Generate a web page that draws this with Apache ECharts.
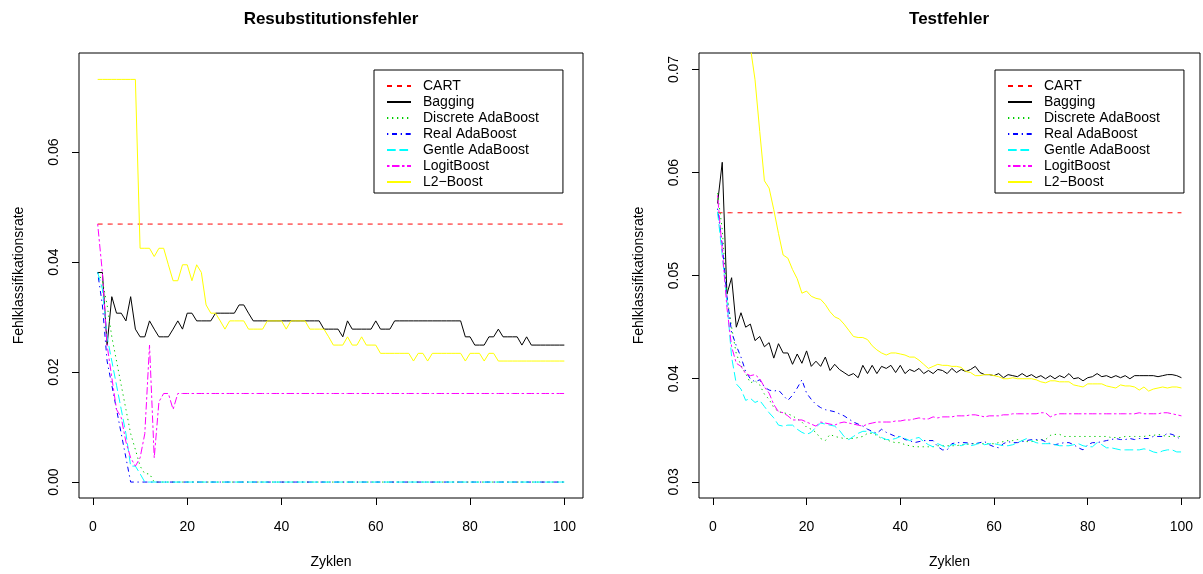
<!DOCTYPE html>
<html>
<head>
<meta charset="utf-8">
<script src="https://cdn.jsdelivr.net/npm/echarts@6/dist/echarts.min.js"></script>
<style>
  html, body { margin: 0; padding: 0; background: #fff; }
  #chart { width: 1203px; height: 574px; }
</style>
</head>
<body>
<div id="chart"></div>
<script>
// Boosting cycles (x axis)
const cycles = [
  1,2,3,4,5,6,7,8,9,10, 11,12,13,14,15,16,17,18,19,20,
  21,22,23,24,25,26,27,28,29,30, 31,32,33,34,35,36,37,38,39,40,
  41,42,43,44,45,46,47,48,49,50, 51,52,53,54,55,56,57,58,59,60,
  61,62,63,64,65,66,67,68,69,70, 71,72,73,74,75,76,77,78,79,80,
  81,82,83,84,85,86,87,88,89,90, 91,92,93,94,95,96,97,98,99,100
];

const methods = ['CART', 'Bagging', 'Discrete AdaBoost', 'Real AdaBoost',
                 'Gentle AdaBoost', 'LogitBoost', 'L2\u2212Boost'];

const leftTitle = 'Resubstitutionsfehler';
const rightTitle = 'Testfehler';
const xName = 'Zyklen';
const yName = 'Fehlklassifikationsrate';

const xTicks = [0, 20, 40, 60, 80, 100];
const yTicksTrain = [0.00, 0.02, 0.04, 0.06];
const yTicksTest = [0.03, 0.04, 0.05, 0.06, 0.07];

// ---- Resubstitution error (training data) ----
const cartTrain = [
  0.0469,0.0469,0.0469,0.0469,0.0469,0.0469,0.0469,0.0469,0.0469,0.0469,
  0.0469,0.0469,0.0469,0.0469,0.0469,0.0469,0.0469,0.0469,0.0469,0.0469,
  0.0469,0.0469,0.0469,0.0469,0.0469,0.0469,0.0469,0.0469,0.0469,0.0469,
  0.0469,0.0469,0.0469,0.0469,0.0469,0.0469,0.0469,0.0469,0.0469,0.0469,
  0.0469,0.0469,0.0469,0.0469,0.0469,0.0469,0.0469,0.0469,0.0469,0.0469,
  0.0469,0.0469,0.0469,0.0469,0.0469,0.0469,0.0469,0.0469,0.0469,0.0469,
  0.0469,0.0469,0.0469,0.0469,0.0469,0.0469,0.0469,0.0469,0.0469,0.0469,
  0.0469,0.0469,0.0469,0.0469,0.0469,0.0469,0.0469,0.0469,0.0469,0.0469,
  0.0469,0.0469,0.0469,0.0469,0.0469,0.0469,0.0469,0.0469,0.0469,0.0469,
  0.0469,0.0469,0.0469,0.0469,0.0469,0.0469,0.0469,0.0469,0.0469,0.0469
];
const bagTrain = [
  0.0381,0.0381,0.0249,0.0337,0.0307,0.0307,0.0293,0.0337,0.0278,0.0264,
  0.0264,0.0293,0.0278,0.0264,0.0264,0.0264,0.0278,0.0293,0.0278,0.0307,
  0.0307,0.0293,0.0293,0.0293,0.0293,0.0307,0.0307,0.0307,0.0307,0.0307,
  0.0322,0.0322,0.0307,0.0293,0.0293,0.0293,0.0293,0.0293,0.0293,0.0293,
  0.0293,0.0293,0.0293,0.0293,0.0293,0.0293,0.0293,0.0293,0.0278,0.0278,
  0.0278,0.0278,0.0264,0.0293,0.0278,0.0278,0.0278,0.0278,0.0278,0.0293,
  0.0278,0.0278,0.0278,0.0293,0.0293,0.0293,0.0293,0.0293,0.0293,0.0293,
  0.0293,0.0293,0.0293,0.0293,0.0293,0.0293,0.0293,0.0293,0.0264,0.0264,
  0.0249,0.0249,0.0249,0.0264,0.0264,0.0278,0.0264,0.0264,0.0264,0.0264,
  0.0249,0.0264,0.0249,0.0249,0.0249,0.0249,0.0249,0.0249,0.0249,0.0249
];
const discTrain = [
  0.0381,0.0366,0.0322,0.0264,0.0220,0.0176,0.0132,0.0088,0.0059,0.0029,
  0.0015,0.0015,0,0,0,0,0,0,0,0,
  0,0,0,0,0,0,0,0,0,0, 0,0,0,0,0,0,0,0,0,0,
  0,0,0,0,0,0,0,0,0,0, 0,0,0,0,0,0,0,0,0,0,
  0,0,0,0,0,0,0,0,0,0, 0,0,0,0,0,0,0,0,0,0,
  0,0,0,0,0,0,0,0,0,0, 0,0,0,0,0,0,0,0,0,0
];
const realTrain = [
  0.0381,0.0322,0.0220,0.0176,0.0132,0.0088,0.0044,0,0,0,
  0,0,0,0,0,0,0,0,0,0,
  0,0,0,0,0,0,0,0,0,0, 0,0,0,0,0,0,0,0,0,0,
  0,0,0,0,0,0,0,0,0,0, 0,0,0,0,0,0,0,0,0,0,
  0,0,0,0,0,0,0,0,0,0, 0,0,0,0,0,0,0,0,0,0,
  0,0,0,0,0,0,0,0,0,0, 0,0,0,0,0,0,0,0,0,0
];
const gentleTrain = [
  0.0381,0.0351,0.0264,0.0220,0.0176,0.0132,0.0088,0.0029,0.0029,0.0015,
  0,0,0,0,0,0,0,0,0,0,
  0,0,0,0,0,0,0,0,0,0, 0,0,0,0,0,0,0,0,0,0,
  0,0,0,0,0,0,0,0,0,0, 0,0,0,0,0,0,0,0,0,0,
  0,0,0,0,0,0,0,0,0,0, 0,0,0,0,0,0,0,0,0,0,
  0,0,0,0,0,0,0,0,0,0, 0,0,0,0,0,0,0,0,0,0
];
const logitTrain = [
  0.0469,0.0381,0.0249,0.0190,0.0132,0.0117,0.0073,0.0044,0.0029,0.0044,
  0.0088,0.0249,0.0044,0.0146,0.0161,0.0161,0.0132,0.0161,0.0161,0.0161,
  0.0161,0.0161,0.0161,0.0161,0.0161,0.0161,0.0161,0.0161,0.0161,0.0161,
  0.0161,0.0161,0.0161,0.0161,0.0161,0.0161,0.0161,0.0161,0.0161,0.0161,
  0.0161,0.0161,0.0161,0.0161,0.0161,0.0161,0.0161,0.0161,0.0161,0.0161,
  0.0161,0.0161,0.0161,0.0161,0.0161,0.0161,0.0161,0.0161,0.0161,0.0161,
  0.0161,0.0161,0.0161,0.0161,0.0161,0.0161,0.0161,0.0161,0.0161,0.0161,
  0.0161,0.0161,0.0161,0.0161,0.0161,0.0161,0.0161,0.0161,0.0161,0.0161,
  0.0161,0.0161,0.0161,0.0161,0.0161,0.0161,0.0161,0.0161,0.0161,0.0161,
  0.0161,0.0161,0.0161,0.0161,0.0161,0.0161,0.0161,0.0161,0.0161,0.0161
];
const l2Train = [
  0.0732,0.0732,0.0732,0.0732,0.0732,0.0732,0.0732,0.0732,0.0732,0.0425,
  0.0425,0.0425,0.0410,0.0425,0.0425,0.0395,0.0366,0.0366,0.0395,0.0395,
  0.0366,0.0395,0.0381,0.0322,0.0307,0.0307,0.0293,0.0278,0.0293,0.0293,
  0.0293,0.0293,0.0278,0.0278,0.0278,0.0278,0.0293,0.0293,0.0293,0.0293,
  0.0278,0.0293,0.0293,0.0293,0.0293,0.0278,0.0278,0.0278,0.0278,0.0264,
  0.0249,0.0249,0.0249,0.0264,0.0249,0.0249,0.0264,0.0249,0.0249,0.0249,
  0.0234,0.0234,0.0234,0.0234,0.0234,0.0234,0.0234,0.0220,0.0234,0.0234,
  0.0220,0.0234,0.0234,0.0234,0.0234,0.0234,0.0234,0.0234,0.0220,0.0234,
  0.0234,0.0234,0.0220,0.0234,0.0234,0.0220,0.0220,0.0220,0.0220,0.0220,
  0.0220,0.0220,0.0220,0.0220,0.0220,0.0220,0.0220,0.0220,0.0220,0.0220
];

// ---- Test error ----
const cartTest = [
  0.0561,0.0561,0.0561,0.0561,0.0561,0.0561,0.0561,0.0561,0.0561,0.0561,
  0.0561,0.0561,0.0561,0.0561,0.0561,0.0561,0.0561,0.0561,0.0561,0.0561,
  0.0561,0.0561,0.0561,0.0561,0.0561,0.0561,0.0561,0.0561,0.0561,0.0561,
  0.0561,0.0561,0.0561,0.0561,0.0561,0.0561,0.0561,0.0561,0.0561,0.0561,
  0.0561,0.0561,0.0561,0.0561,0.0561,0.0561,0.0561,0.0561,0.0561,0.0561,
  0.0561,0.0561,0.0561,0.0561,0.0561,0.0561,0.0561,0.0561,0.0561,0.0561,
  0.0561,0.0561,0.0561,0.0561,0.0561,0.0561,0.0561,0.0561,0.0561,0.0561,
  0.0561,0.0561,0.0561,0.0561,0.0561,0.0561,0.0561,0.0561,0.0561,0.0561,
  0.0561,0.0561,0.0561,0.0561,0.0561,0.0561,0.0561,0.0561,0.0561,0.0561,
  0.0561,0.0561,0.0561,0.0561,0.0561,0.0561,0.0561,0.0561,0.0561,0.0561
];
const bagTest = [
  0.0570,0.0610,0.0482,0.0498,0.0450,0.0464,0.0450,0.0453,0.0437,0.0441,
  0.0431,0.0435,0.0420,0.0434,0.0425,0.0425,0.0414,0.0424,0.0415,0.0427,
  0.0412,0.0417,0.0412,0.0421,0.0408,0.0414,0.0409,0.0406,0.0403,0.0405,
  0.0401,0.0413,0.0405,0.0413,0.0405,0.0412,0.0410,0.0413,0.0406,0.0413,
  0.0405,0.0409,0.0407,0.0410,0.0405,0.0408,0.0405,0.0409,0.0408,0.0405,
  0.0410,0.0406,0.0409,0.0407,0.0409,0.0412,0.0406,0.0404,0.0404,0.0403,
  0.0405,0.0401,0.0404,0.0403,0.0402,0.0405,0.0402,0.0404,0.0401,0.0403,
  0.0400,0.0403,0.0400,0.0403,0.0401,0.0405,0.0400,0.0401,0.0398,0.0401,
  0.0402,0.0405,0.0402,0.0403,0.0401,0.0403,0.0401,0.0403,0.0400,0.0403,
  0.0403,0.0403,0.0403,0.0403,0.0402,0.0403,0.0404,0.0404,0.0403,0.0401
];
const discTest = [
  0.0580,0.0545,0.0480,0.0450,0.0424,0.0413,0.0405,0.0396,0.0398,0.0394,
  0.0385,0.0380,0.0372,0.0368,0.0367,0.0366,0.0364,0.0361,0.0358,0.0353,
  0.0351,0.0348,0.0342,0.0340,0.0346,0.0344,0.0343,0.0342,0.0342,0.0342,
  0.0343,0.0344,0.0347,0.0347,0.0345,0.0342,0.0341,0.0339,0.0338,0.0338,
  0.0336,0.0335,0.0334,0.0334,0.0334,0.0334,0.0334,0.0335,0.0335,0.0335,
  0.0335,0.0335,0.0336,0.0336,0.0337,0.0337,0.0337,0.0337,0.0337,0.0337,
  0.0338,0.0339,0.0340,0.0340,0.0341,0.0340,0.0339,0.0339,0.0340,0.0341,
  0.0341,0.0345,0.0346,0.0346,0.0344,0.0344,0.0344,0.0344,0.0344,0.0344,
  0.0344,0.0344,0.0344,0.0344,0.0343,0.0343,0.0343,0.0344,0.0344,0.0344,
  0.0344,0.0344,0.0345,0.0345,0.0346,0.0345,0.0344,0.0344,0.0344,0.0344
];
const realTest = [
  0.0565,0.0530,0.0480,0.0445,0.0432,0.0421,0.0407,0.0400,0.0397,0.0399,
  0.0392,0.0389,0.0388,0.0389,0.0384,0.0379,0.0384,0.0391,0.0399,0.0386,
  0.0380,0.0375,0.0372,0.0370,0.0369,0.0368,0.0366,0.0364,0.0361,0.0358,
  0.0356,0.0354,0.0351,0.0349,0.0347,0.0351,0.0348,0.0346,0.0344,0.0344,
  0.0341,0.0340,0.0338,0.0339,0.0340,0.0340,0.0340,0.0334,0.0331,0.0331,
  0.0337,0.0338,0.0338,0.0338,0.0337,0.0337,0.0338,0.0339,0.0336,0.0334,
  0.0333,0.0337,0.0339,0.0338,0.0338,0.0339,0.0340,0.0341,0.0341,0.0341,
  0.0339,0.0337,0.0336,0.0337,0.0338,0.0338,0.0336,0.0333,0.0331,0.0336,
  0.0338,0.0338,0.0339,0.0340,0.0341,0.0342,0.0341,0.0341,0.0342,0.0341,
  0.0342,0.0342,0.0342,0.0344,0.0344,0.0344,0.0347,0.0346,0.0344,0.0340
];
const gentleTest = [
  0.0562,0.0520,0.0475,0.0421,0.0395,0.0390,0.0379,0.0381,0.0377,0.0379,
  0.0373,0.0367,0.0362,0.0355,0.0354,0.0355,0.0355,0.0351,0.0348,0.0346,
  0.0348,0.0353,0.0357,0.0356,0.0355,0.0354,0.0350,0.0344,0.0341,0.0344,
  0.0347,0.0349,0.0349,0.0348,0.0346,0.0343,0.0341,0.0341,0.0342,0.0344,
  0.0342,0.0340,0.0342,0.0343,0.0339,0.0336,0.0334,0.0337,0.0335,0.0333,
  0.0336,0.0336,0.0335,0.0337,0.0335,0.0336,0.0338,0.0336,0.0337,0.0337,
  0.0336,0.0335,0.0335,0.0336,0.0338,0.0340,0.0342,0.0340,0.0338,0.0337,
  0.0337,0.0337,0.0336,0.0335,0.0335,0.0335,0.0336,0.0337,0.0335,0.0334,
  0.0334,0.0338,0.0336,0.0333,0.0333,0.0332,0.0331,0.0331,0.0331,0.0331,
  0.0331,0.0332,0.0331,0.0329,0.0328,0.0330,0.0331,0.0331,0.0329,0.0329
];
const logitTest = [
  0.0578,0.0525,0.0469,0.0431,0.0415,0.0412,0.0405,0.0403,0.0404,0.0400,
  0.0392,0.0386,0.0375,0.0368,0.0367,0.0364,0.0360,0.0360,0.0360,0.0358,
  0.0356,0.0354,0.0358,0.0357,0.0356,0.0355,0.0357,0.0358,0.0357,0.0356,
  0.0355,0.0354,0.0356,0.0357,0.0358,0.0358,0.0358,0.0358,0.0359,0.0359,
  0.0360,0.0360,0.0361,0.0362,0.0361,0.0361,0.0363,0.0362,0.0363,0.0363,
  0.0363,0.0364,0.0364,0.0364,0.0365,0.0365,0.0364,0.0363,0.0364,0.0364,
  0.0364,0.0365,0.0365,0.0366,0.0366,0.0366,0.0366,0.0366,0.0366,0.0367,
  0.0367,0.0363,0.0365,0.0366,0.0366,0.0366,0.0366,0.0366,0.0366,0.0366,
  0.0366,0.0366,0.0366,0.0366,0.0366,0.0366,0.0366,0.0366,0.0366,0.0366,
  0.0367,0.0366,0.0366,0.0366,0.0366,0.0367,0.0367,0.0366,0.0365,0.0364
];
const l2Test = [
  0.1000,0.0930,0.0880,0.0840,0.0800,0.0770,0.0745,0.0722,0.0690,0.0640,
  0.0592,0.0585,0.0564,0.0541,0.0520,0.0517,0.0506,0.0497,0.0483,0.0485,
  0.0480,0.0478,0.0477,0.0472,0.0465,0.0460,0.0458,0.0453,0.0447,0.0441,
  0.0440,0.0440,0.0438,0.0432,0.0428,0.0425,0.0423,0.0425,0.0425,0.0424,
  0.0423,0.0421,0.0421,0.0418,0.0414,0.0410,0.0412,0.0414,0.0413,0.0413,
  0.0412,0.0412,0.0411,0.0407,0.0406,0.0403,0.0403,0.0404,0.0404,0.0403,
  0.0402,0.0400,0.0400,0.0401,0.0400,0.0400,0.0400,0.0400,0.0399,0.0397,
  0.0396,0.0398,0.0398,0.0397,0.0397,0.0397,0.0394,0.0393,0.0392,0.0395,
  0.0395,0.0395,0.0395,0.0393,0.0392,0.0391,0.0394,0.0393,0.0393,0.0392,
  0.0389,0.0392,0.0388,0.0390,0.0391,0.0392,0.0391,0.0392,0.0392,0.0391
];

const trainSets = [cartTrain, bagTrain, discTrain, realTrain, gentleTrain, logitTrain, l2Train];
const testSets  = [cartTest, bagTest, discTest, realTest, gentleTest, logitTest, l2Test];

// Line styles per method (R base palette and lty 2,1,3,4,5,6,1)
const lineColors = ['#FF0000', '#000000', '#00CD00', '#0000FF', '#00FFFF', '#FF00FF', '#FFFF00'];
const lineDash = [
  [5, 5],               // dashed
  'solid',
  [1.3, 3.7],           // dotted
  [1.3, 3.7, 5, 3.7],   // dotdash
  [8.7, 3.7],           // longdash
  [2.5, 2.5, 7.5, 2.5], // twodash
  'solid'
];

const FONT = '"Liberation Sans", Arial, Helvetica, sans-serif';

function pairs(values) {
  return cycles.map((c, k) => [c, values[k]]);
}

function makeSeries(sets, gridIdx) {
  return sets.map((vals, m) => ({
    name: methods[m],
    type: 'line',
    xAxisIndex: gridIdx,
    yAxisIndex: gridIdx,
    data: pairs(vals),
    symbol: 'none',
    showSymbol: false,
    clip: true,
    silent: true,
    color: lineColors[m],
    lineStyle: { color: lineColors[m], width: 1, type: lineDash[m] },
    itemStyle: { color: lineColors[m] },
    z: 2 + m
  }));
}

function xAxisDef(gridIdx) {
  return {
    gridIndex: gridIdx,
    type: 'value',
    min: -2.96,
    max: 103.96,
    name: xName,
    nameLocation: 'middle',
    nameGap: 57,
    nameTextStyle: { fontFamily: FONT, fontSize: 14, color: '#000' },
    axisLine: { show: false, onZero: false },
    splitLine: { show: false },
    axisTick: { show: true, inside: false, length: 7, customValues: xTicks,
                lineStyle: { color: '#000', width: 1 } },
    axisLabel: { customValues: xTicks, margin: 22, fontFamily: FONT, fontSize: 14,
                 color: '#000', formatter: v => String(v) }
  };
}

function yAxisDef(gridIdx, lo, hi, ticks) {
  return {
    gridIndex: gridIdx,
    type: 'value',
    min: lo,
    max: hi,
    name: yName,
    nameLocation: 'middle',
    nameGap: 53,
    nameRotate: 90,
    nameTextStyle: { fontFamily: FONT, fontSize: 14, color: '#000' },
    axisLine: { show: false, onZero: false },
    splitLine: { show: false },
    axisTick: { show: true, inside: false, length: 7, customValues: ticks,
                lineStyle: { color: '#000', width: 1 } },
    axisLabel: { customValues: ticks, rotate: 90, margin: 18, fontFamily: FONT,
                 fontSize: 14, color: '#000', formatter: v => v.toFixed(2) }
  };
}

function legendDef(leftPx) {
  return {
    show: true,
    orient: 'vertical',
    left: leftPx,
    top: 70,
    data: methods,
    itemWidth: 24,
    itemHeight: 14,
    itemGap: 2,
    padding: [9, 24, 4, 12],
    borderColor: '#000',
    borderWidth: 1,
    backgroundColor: '#fff',
    selectedMode: false,
    itemStyle: { opacity: 0, borderWidth: 0 },
    textStyle: { fontFamily: FONT, fontSize: 14, color: '#000', lineHeight: 14,
                 padding: [0, 0, 0, 7] }
  };
}

const chart = echarts.init(document.getElementById('chart'), null, { renderer: 'canvas' });

chart.setOption({
  animation: false,
  backgroundColor: '#fff',
  title: [
    { text: leftTitle, left: 331, top: 11, textAlign: 'center', padding: 0,
      textStyle: { fontFamily: FONT, fontSize: 17, fontWeight: 'bold', color: '#000' } },
    { text: rightTitle, left: 949, top: 11, textAlign: 'center', padding: 0,
      textStyle: { fontFamily: FONT, fontSize: 17, fontWeight: 'bold', color: '#000' } }
  ],
  grid: [
    { left: 79, top: 53, width: 504, height: 449, show: true,
      borderColor: '#000', borderWidth: 1, backgroundColor: 'transparent' },
    { left: 699, top: 53, width: 501, height: 449, show: true,
      borderColor: '#000', borderWidth: 1, backgroundColor: 'transparent' }
  ],
  xAxis: [xAxisDef(0), xAxisDef(1)],
  yAxis: [
    yAxisDef(0, -0.0029, 0.0780, yTicksTrain),
    yAxisDef(1, 0.02843, 0.0716, yTicksTest)
  ],
  legend: [legendDef(374), legendDef(995)],
  series: makeSeries(trainSets, 0).concat(makeSeries(testSets, 1))
});
</script>
</body>
</html>
